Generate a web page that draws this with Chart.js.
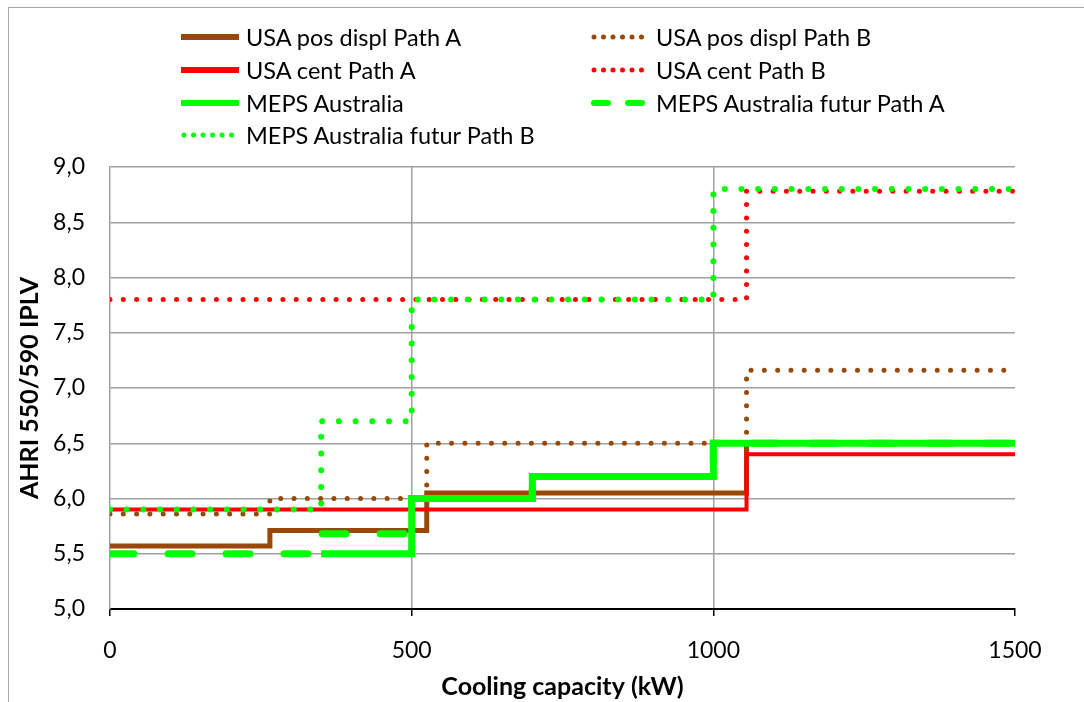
<!DOCTYPE html>
<html>
<head>
<meta charset="utf-8">
<script src="https://cdn.jsdelivr.net/npm/chart.js@4"></script>
<style>
  body { margin: 0; width: 1084px; height: 702px; overflow: hidden; background: #fff; font-family: Lato, "Liberation Sans", sans-serif; }
  #frame { position: absolute; left: 8px; top: 7px; width: 1100px; height: 720px; border: 1px solid #a6a6a6; }
  #wrap { position: absolute; left: 0; top: 0; width: 1084px; height: 702px; }
  #legend { position: absolute; left: 181px; top: 21px; display: grid; grid-template-columns: 410px auto; grid-auto-rows: 32.7px; font-size: 23.5px; color: #000; }
  .item { display: flex; align-items: center; white-space: nowrap; }
  .item svg { width: 58px; height: 12px; margin-right: 7px; }
</style>
</head>
<body>
<div id="frame"></div>
<div id="wrap"><canvas id="chart"></canvas></div>
<div id="legend"></div>
<script>
// step breakpoints (kW) and the level that starts at each breakpoint
const usaPosDisplA_x = [0, 265, 525, 1055, 1500];
const usaPosDisplA_y = [5.57, 5.71, 6.05, 6.5, 6.5];
const usaPosDisplB_x = [0, 265, 525, 1055, 1500];
const usaPosDisplB_y = [5.86, 6.0, 6.5, 7.16, 7.16];
const usaCentA_x = [0, 1055, 1500];
const usaCentA_y = [5.9, 6.4, 6.4];
const usaCentB_x = [0, 1055, 1500];
const usaCentB_y = [7.8, 8.78, 8.78];
const mepsAus_x = [350, 500, 700, 1000, 1500];
const mepsAus_y = [5.5, 6.0, 6.2, 6.5, 6.5];
const mepsFuturA_x = [0, 350, 500, 700, 1000, 1500];
const mepsFuturA_y = [5.5, 5.68, 6.0, 6.2, 6.5, 6.5];
const mepsFuturB_x = [0, 350, 500, 1000, 1500];
const mepsFuturB_y = [5.9, 6.7, 7.8, 8.8, 8.8];

const xTicks = [0, 500, 1000, 1500];
const yTicks = [5.0, 5.5, 6.0, 6.5, 7.0, 7.5, 8.0, 8.5, 9.0];

const brown = "#984807";
const red = "#ff0000";
const green = "#00ff00";
const gridGray = "#a0a0a0";

const toPoints = (xs, ys) => xs.map((x, i) => ({ x: x, y: ys[i] }));

// legend order; Excel draws later series on top
const series = [
  { label: "USA pos displ Path A", data: toPoints(usaPosDisplA_x, usaPosDisplA_y), color: brown, width: 5, dash: [] },
  { label: "USA pos displ Path B", data: toPoints(usaPosDisplB_x, usaPosDisplB_y), color: brown, width: 5, dash: [0, 13.3], dotted: true },
  { label: "USA cent Path A", data: toPoints(usaCentA_x, usaCentA_y), color: red, width: 4, dash: [] },
  { label: "USA cent Path B", data: toPoints(usaCentB_x, usaCentB_y), color: red, width: 5, dash: [0, 13.3], dotted: true },
  { label: "MEPS Australia", data: toPoints(mepsAus_x, mepsAus_y), color: green, width: 7, dash: [] },
  { label: "MEPS Australia futur Path A", data: toPoints(mepsFuturA_x, mepsFuturA_y), color: green, width: 7, dash: [24, 34], dashed: true },
  { label: "MEPS Australia futur Path B", data: toPoints(mepsFuturB_x, mepsFuturB_y), color: green, width: 6, dash: [0, 16.7], dotted: true },
];

const datasets = series.map((s, i) => ({
  label: s.label,
  data: s.data,
  borderColor: s.color,
  borderWidth: s.width,
  borderDash: s.dash,
  borderCapStyle: s.dotted || s.dashed ? "round" : "butt",
  stepped: "before",
  pointRadius: 0,
  fill: false,
  order: series.length - 1 - i,
}));

new Chart(document.getElementById("chart"), {
  type: "line",
  data: { datasets: datasets },
  options: {
    responsive: true,
    maintainAspectRatio: false,
    animation: false,
    layout: { padding: { top: 167, left: 0, right: 69, bottom: 0 } },
    plugins: { legend: { display: false }, tooltip: { enabled: false } },
    scales: {
      x: {
        type: "linear",
        min: 0,
        max: 1500,
        afterBuildTicks: (axis) => { axis.ticks = xTicks.map((v) => ({ value: v })); },
        afterFit: (axis) => { axis.height = 93; },
        ticks: { color: "#000", font: { family: "Lato", size: 23 }, padding: 21, maxRotation: 0, callback: (v) => String(v) },
        grid: {
          color: (ctx) => (ctx.tick && (ctx.tick.value === 500 || ctx.tick.value === 1000) ? gridGray : "rgba(0,0,0,0)"),
          lineWidth: 1.5,
          tickColor: "#000",
          tickWidth: 1.5,
          tickLength: 7,
        },
        border: { color: "#000", width: 2 },
        title: {
          display: true,
          text: "Cooling capacity (kW)",
          color: "#000",
          font: { family: "Lato", size: 25, weight: "bold" },
          padding: { top: 0, bottom: 0 },
        },
      },
      y: {
        min: 5,
        max: 9,
        afterBuildTicks: (axis) => { axis.ticks = yTicks.map((v) => ({ value: v })); },
        afterFit: (axis) => { axis.width = 110; },
        ticks: {
          color: "#000",
          font: { family: "Lato", size: 23 },
          padding: 25,
          callback: (v) => v.toFixed(1).replace(".", ","),
        },
        grid: { color: gridGray, lineWidth: 1.5, drawTicks: false },
        border: { color: gridGray, width: 1.5 },
        title: {
          display: true,
          text: "AHRI 550/590 IPLV",
          color: "#000",
          font: { family: "Lato", size: 25, weight: "bold" },
          padding: { top: 15, bottom: 0 },
        },
      },
    },
  },
});

// two-column legend like the Excel one
const legend = document.getElementById("legend");
series.forEach((s) => {
  const item = document.createElement("div");
  item.className = "item";
  let dash = "";
  let cap = "butt";
  let x1 = 0, x2 = 58;
  if (s.dotted) { dash = "0 9.5"; cap = "round"; x1 = 3; x2 = 55; }
  if (s.dashed) { dash = "14 20"; cap = "round"; x1 = 3; x2 = 55; }
  item.innerHTML =
    '<svg viewBox="0 0 58 12"><line x1="' + x1 + '" y1="6" x2="' + x2 + '" y2="6" stroke="' + s.color +
    '" stroke-width="' + (s.dotted ? 5 : 6) + '" stroke-linecap="' + cap + '"' +
    (dash ? ' stroke-dasharray="' + dash + '"' : "") + "/></svg><span>" + s.label + "</span>";
  legend.appendChild(item);
});
</script>
</body>
</html>
